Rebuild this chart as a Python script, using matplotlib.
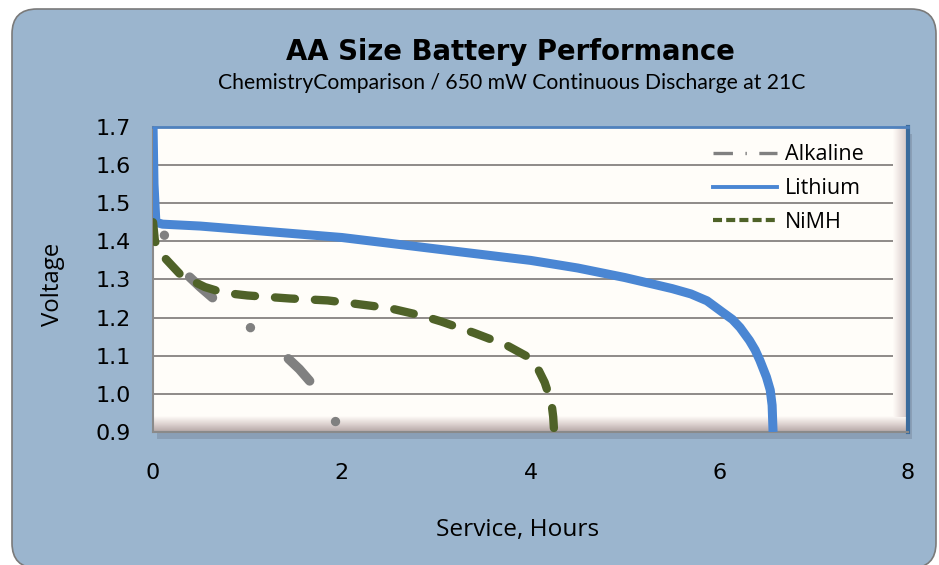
import numpy as np
import matplotlib.pyplot as plt
from matplotlib.patches import FancyBboxPatch, Rectangle
from matplotlib.lines import Line2D
from matplotlib.colors import LinearSegmentedColormap

plt.rcParams['lines.scale_dashes'] = False

# data (hours, volts)
li_hours = [0, 0.01, 0.03, 0.1, 0.5, 1.0, 1.5, 2.0, 2.5, 3.0, 3.5, 4.0, 4.5, 5.0, 5.5, 5.7, 5.87,
            6.04, 6.14, 6.22, 6.32, 6.38, 6.43, 6.5, 6.54, 6.56, 6.57]
li_volts = [1.70, 1.55, 1.45, 1.445, 1.44, 1.43, 1.42, 1.41, 1.395, 1.38, 1.365, 1.35, 1.33, 1.305, 1.276,
            1.262, 1.244, 1.213, 1.195, 1.174, 1.14, 1.115, 1.088, 1.044, 1.01, 0.97, 0.90]

ni_hours = [0, 0.02, 0.13, 0.3, 0.55, 0.75, 1.0, 1.45, 1.85, 2.15, 2.5, 2.85, 3.05, 3.4, 3.75, 3.95,
            4.0, 4.07, 4.11, 4.15, 4.19, 4.22, 4.24, 4.25]
ni_volts = [1.45, 1.40, 1.355, 1.31, 1.28, 1.265, 1.258, 1.25, 1.245, 1.236, 1.225, 1.205, 1.19, 1.16,
            1.127, 1.10, 1.09, 1.07, 1.05, 1.03, 1.00, 0.98, 0.94, 0.90]

al_hours = [0, 0.12, 0.2, 0.35, 0.5, 0.64, 0.8, 1.03, 1.2, 1.4, 1.55, 1.68, 1.8, 1.93, 1.97]
al_volts = [1.46, 1.416, 1.38, 1.315, 1.28, 1.25, 1.22, 1.174, 1.14, 1.10, 1.065, 1.028, 0.99, 0.93, 0.90]

yticks = [0.9, 1.0, 1.1, 1.2, 1.3, 1.4, 1.5, 1.6, 1.7]
xticks = [0, 2, 4, 6, 8]

c_li = '#4A86D3'
c_ni = '#4F6228'
c_al = '#808080'
panel = '#9BB5CE'

fig = plt.figure(figsize=(9.39, 5.65), dpi=100)
fig.patch.set_facecolor('white')
bg = FancyBboxPatch((0.12, -0.03), 9.24, 5.59, boxstyle='round,pad=0,rounding_size=0.25',
                    transform=fig.dpi_scale_trans, facecolor=panel, edgecolor='#7A7A7A',
                    lw=1.2, zorder=-5)
fig.patches.append(bg)
# soft shadow under the plot area
fig.patches.append(Rectangle((0.163 + 0.004, 0.2354 - 0.012), 0.804, 0.540, transform=fig.transFigure,
                             facecolor='#8A9FB6', edgecolor='none', zorder=-4))

ax = fig.add_axes([0.163, 0.2354, 0.804, 0.540])
ax.set_facecolor('#FFFDF9')
ax.set_yticks(yticks)
ax.set_yticklabels(['%.1f' % v for v in yticks])
ax.set_xticks(xticks)
ax.tick_params(length=0, labelsize=16)
ax.tick_params(axis='y', pad=16)
ax.tick_params(axis='x', pad=22)
for v in yticks[1:-1]:
    ax.axhline(v, color='#8E8A88', lw=1.4, zorder=1)

# 3d floor and back wall shading
floor = np.linspace(0, 1, 50).reshape(-1, 1)
ax.imshow(floor, extent=(0, 1, 0, 0.05), transform=ax.transAxes, aspect='auto',
          cmap=LinearSegmentedColormap.from_list('f', ['#B4A6A5', '#DDD2D0', '#FFFCF8']),
          origin='lower', zorder=1.5)
wall = np.linspace(0, 1, 50).reshape(1, -1)
ax.imshow(wall, extent=(0.98, 1, 0.05, 1), transform=ax.transAxes, aspect='auto',
          cmap=LinearSegmentedColormap.from_list('w', ['#FFFCF8', '#D0C0C0']),
          zorder=1.5)
ax.set_xlim(0, 8)
ax.set_ylim(0.9, 1.7)

for s in ['left', 'bottom']:
    ax.spines[s].set_color('#8A8A8A')
    ax.spines[s].set_linewidth(1.5)
ax.spines['top'].set_color('#4F81BD')
ax.spines['top'].set_linewidth(2)
ax.spines['right'].set_color('#3B6B9C')
ax.spines['right'].set_linewidth(3)

ax.plot(al_hours, al_volts, color=c_al, lw=6.8, linestyle=(42.4, (22.2, 34.8, 0.01, 35.3)),
        dash_capstyle='round', solid_capstyle='round', zorder=3, clip_on=False)
ax.plot(li_hours, li_volts, color=c_li, lw=6.5, solid_capstyle='butt', solid_joinstyle='round', zorder=4)
ax.plot(ni_hours, ni_volts, color=c_ni, lw=6, linestyle=(0, (14.4, 14.4)),
        dash_capstyle='round', zorder=5)

handles = [
    Line2D([], [], color=c_al, lw=2.4, linestyle=(0, (14, 9, 1, 9))),
    Line2D([], [], color=c_li, lw=2.8),
    Line2D([], [], color=c_ni, lw=3, linestyle=(0, (6.5, 3))),
]
ax.legend(handles, ['Alkaline', 'Lithium', 'NiMH'], loc='upper right', frameon=False,
          handlelength=3.0, handletextpad=0.35, labelspacing=0.6,
          bbox_to_anchor=(0.967, 1.007), prop={'family': 'Open Sans', 'size': 15.5})

fig.text(0.544, 0.908, 'AA Size Battery Performance', ha='center', va='center',
         fontsize=19.8, fontweight='bold', family='DejaVu Sans')
fig.text(0.545, 0.853, 'ChemistryComparison / 650 mW Continuous Discharge at 21C', ha='center',
         va='center', fontsize=15.2, family='Lato')
fig.text(0.056, 0.496, 'Voltage', rotation=90, ha='center', va='center', fontsize=17.3, family='Open Sans')
fig.text(0.551, 0.062, 'Service, Hours', ha='center', va='center', fontsize=17.6, family='Open Sans')

plt.savefig('out.png', dpi=100)
